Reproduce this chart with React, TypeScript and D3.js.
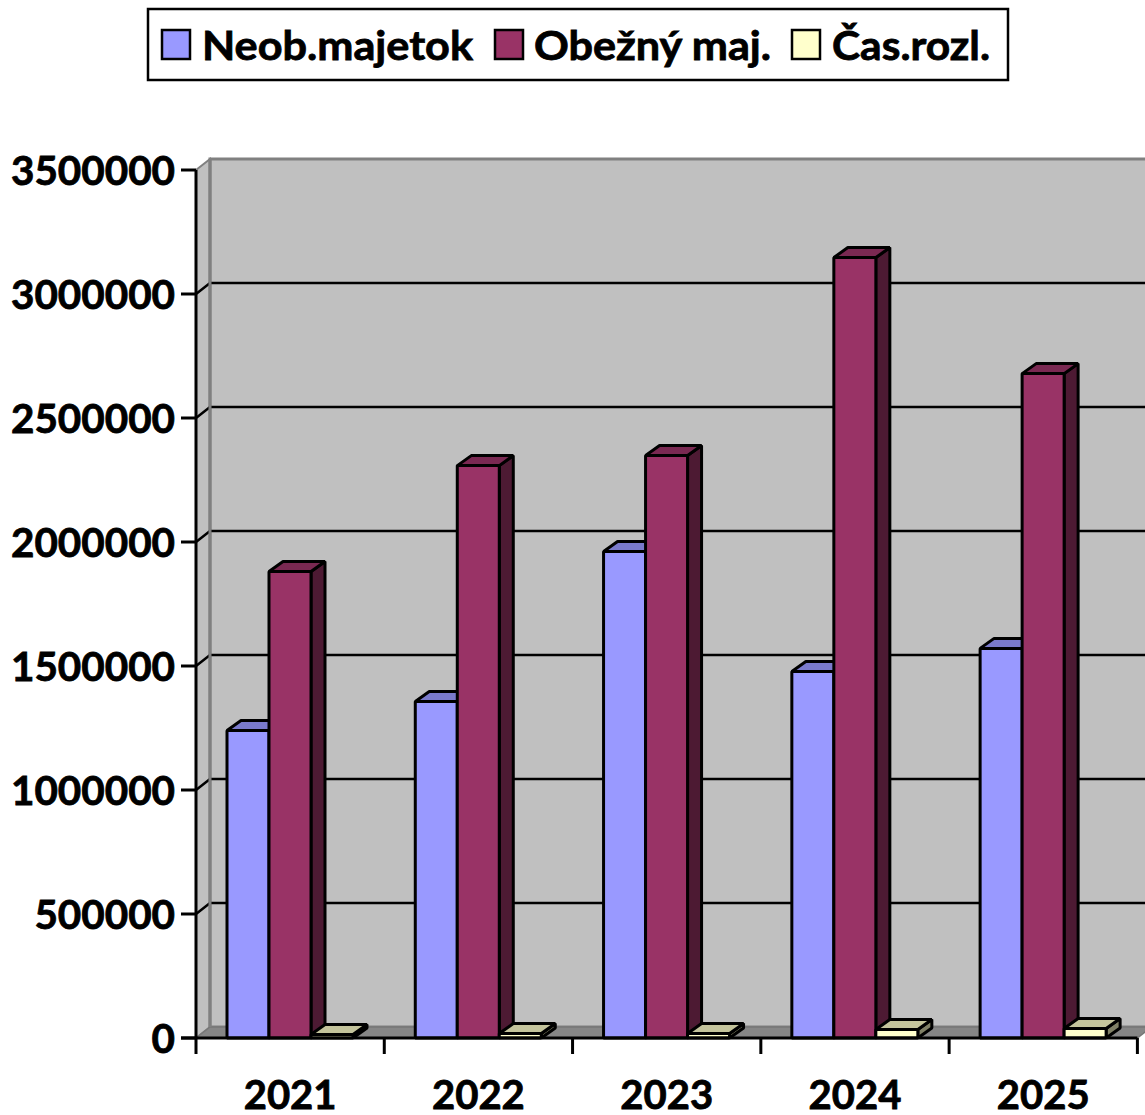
import React from "react";
import * as d3 from "d3";

const categories = ["2021", "2022", "2023", "2024", "2025"];
const neob = [1242000, 1359000, 1964000, 1480000, 1573000];
const obezny = [1883000, 2310000, 2351000, 3149000, 2681000];
const cas = [16000, 20000, 20000, 36000, 40000];
const seriesNames = ["Neob.majetok", "Obežný maj.", "Čas.rozl."];
const yTicks = [0, 500000, 1000000, 1500000, 2000000, 2500000, 3000000, 3500000];

const W = 1145, H = 1115;
const FONT = "Lato, Carlito, sans-serif";
const dx = 14, dy = -11;
const y = d3.scaleLinear().domain([0, 3500000]).range([1038, 170]);
const x = d3.scaleBand<string>().domain(categories).range([196, 1137.4]);
const band = x.bandwidth();
const barW = 42;
const barOff = 31;

const series = [
  { name: seriesNames[0], values: neob, front: "#9999ff", top: "#7a7acc", side: "#4d4d80" },
  { name: seriesNames[1], values: obezny, front: "#993366", top: "#7a2952", side: "#4d1a33" },
  { name: seriesNames[2], values: cas, front: "#ffffcc", top: "#c4c49c", side: "#808066" },
];

function Bar({ x0, v, c }: { x0: number; v: number; c: (typeof series)[0] }) {
  const yt = y(v) + 0.5, yb = y(0), x1 = x0 + barW;
  const d = dy + 1;
  return (
    <g stroke="#000" strokeWidth={3} strokeLinejoin="bevel">
      <polygon points={`${x1},${yt} ${x1 + dx},${yt + d} ${x1 + dx},${yb + d} ${x1},${yb}`} fill={c.side} />
      <polygon points={`${x0},${yt} ${x0 + dx},${yt + d} ${x1 + dx},${yt + d} ${x1},${yt}`} fill={c.top} />
      <rect x={x0} y={yt} width={barW} height={yb - yt} fill={c.front} />
    </g>
  );
}

const bold = { stroke: "#000", strokeWidth: 0.8, paintOrder: "stroke" } as const;

export default function App() {
  const backR = W + 20;
  const y0 = y(0);
  const yTop = y(3500000);
  const xEnd = 1137.4;
  const legend = [
    { sx: 162, tx: 202, w: 271, i: 0 },
    { sx: 495, tx: 534, w: 237, i: 1 },
    { sx: 792, tx: 832, w: 158, i: 2 },
  ];
  return (
    <svg width={W} height={H} style={{ position: "absolute", left: 0, top: 0, background: "#fff" }} fontFamily={FONT} fontWeight={700}>
      {/* walls */}
      <polygon points={`${196},${yTop} ${196 + dx},${yTop + dy} ${196 + dx},${y0 + dy} ${196},${y0}`} fill="#c0c0c0" stroke="#808080" strokeWidth={2} />
      <rect x={196 + dx} y={yTop + dy} width={backR} height={y0 - yTop} fill="#c0c0c0" stroke="#808080" strokeWidth={3} />
      <polygon points={`${196},${y0} ${196 + dx},${y0 + dy} ${xEnd + dx},${y0 + dy} ${xEnd},${y0}`} fill="#868686" stroke="#777" strokeWidth={1.5} />
      {/* grid */}
      {yTicks.slice(1, -1).map((t) => (
        <polyline key={t} points={`196,${y(t)} ${196 + dx},${y(t) + dy} ${backR},${y(t) + dy}`} fill="none" stroke="#000" strokeWidth={2.5} />
      ))}
      <line x1={210} x2={210} y1={yTop + dy} y2={y0 + dy} stroke="#808080" strokeWidth={3} />
      {/* bars */}
      {categories.map((c, i) => (
        <g key={c}>
          {series.map((s, k) => (
            <Bar key={s.name} x0={(x(c) as number) + barOff + k * barW} v={s.values[i]} c={s} />
          ))}
        </g>
      ))}
      {/* axes */}
      <line x1={196} x2={196} y1={yTop} y2={y0 + 16} stroke="#000" strokeWidth={3} />
      <line x1={181} x2={xEnd} y1={y0} y2={y0} stroke="#000" strokeWidth={3} />
      {yTicks.map((t) => (
        <g key={t}>
          <line x1={181} x2={196} y1={y(t)} y2={y(t)} stroke="#000" strokeWidth={3} />
          <text x={175} y={y(t) + 15} textAnchor="end" fontSize={40.4} fill="#000" {...bold}>{t}</text>
        </g>
      ))}
      {categories.map((c) => (
        <g key={c}>
          <line x1={(x(c) as number) + band} x2={(x(c) as number) + band} y1={y0} y2={y0 + 16} stroke="#000" strokeWidth={3} />
          <text x={(x(c) as number) + band / 2} y={1109} textAnchor="middle" fontSize={40} fill="#000" {...bold}>{c}</text>
        </g>
      ))}
      {/* legend */}
      <rect x={148} y={9} width={860} height={71} fill="#fff" stroke="#000" strokeWidth={2.5} />
      {legend.map((l) => (
        <g key={l.i}>
          <rect x={l.sx} y={30} width={28} height={29} fill={series[l.i].front} stroke="#000" strokeWidth={2.5} />
          <text x={l.tx} y={60} fontSize={41} fill="#000" textLength={l.w} lengthAdjust="spacingAndGlyphs" {...bold}>{seriesNames[l.i]}</text>
        </g>
      ))}
    </svg>
  );
}
